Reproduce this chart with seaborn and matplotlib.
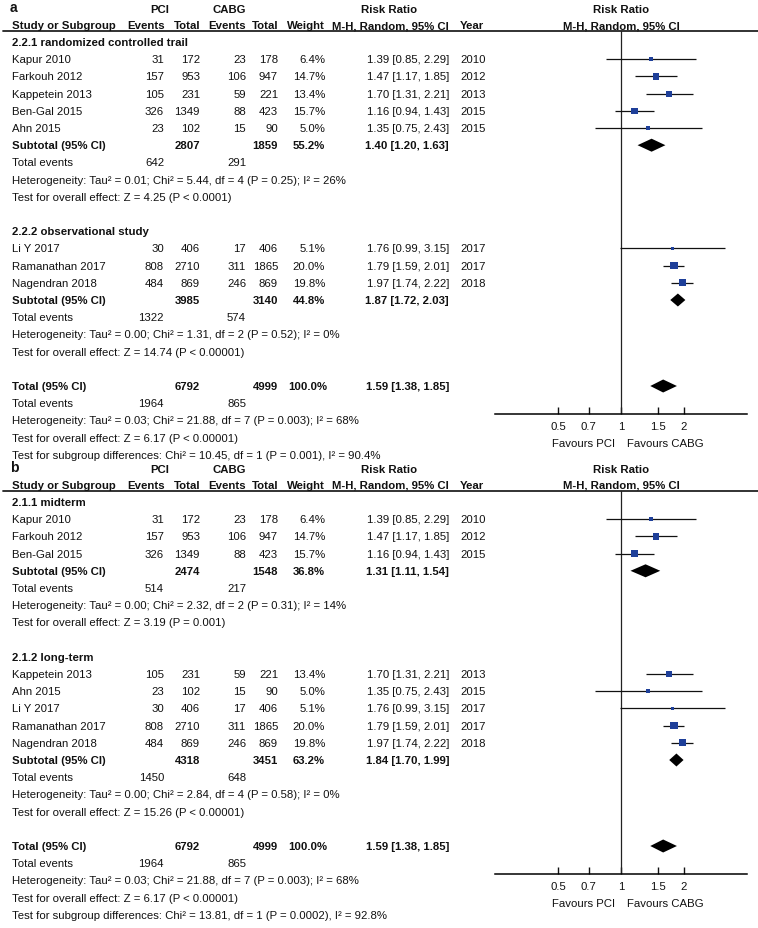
import matplotlib
matplotlib.use("Agg")
import matplotlib.pyplot as plt
import seaborn as sns
from matplotlib.patches import Polygon
from matplotlib.ticker import NullLocator

sns.set_theme(style="white")
plt.rcParams['font.family'] = ['Liberation Sans', 'DejaVu Sans']
plt.rcParams['axes.edgecolor'] = 'black'

# ── DATA ───────────────────────────────────────────────────
studies     = ["Kapur 2010", "Farkouh 2012", "Kappetein 2013", "Ben-Gal 2015",
               "Ahn 2015", "Li Y 2017", "Ramanathan 2017", "Nagendran 2018"]
pci_events  = [31, 157, 105, 326, 23, 30, 808, 484]
pci_total   = [172, 953, 231, 1349, 102, 406, 2710, 869]
cabg_events = [23, 106, 59, 88, 15, 17, 311, 246]
cabg_total  = [178, 947, 221, 423, 90, 406, 1865, 869]
weights     = [6.4, 14.7, 13.4, 15.7, 5.0, 5.1, 20.0, 19.8]
rr          = [1.39, 1.47, 1.70, 1.16, 1.35, 1.76, 1.79, 1.97]
rr_lo       = [0.85, 1.17, 1.31, 0.94, 0.75, 0.99, 1.59, 1.74]
rr_hi       = [2.29, 1.85, 2.21, 1.43, 2.43, 3.15, 2.01, 2.22]
years       = [2010, 2012, 2013, 2015, 2015, 2017, 2017, 2018]

# panel a: by study design
groups_a      = ["2.2.1 randomized controlled trail", "2.2.2 observational study"]
members_a     = [[0, 1, 2, 3, 4], [5, 6, 7]]
sub_pci_a     = [2807, 3985]
sub_cabg_a    = [1859, 3140]
sub_weight_a  = [55.2, 44.8]
sub_rr_a      = [1.40, 1.87]
sub_lo_a      = [1.20, 1.72]
sub_hi_a      = [1.63, 2.03]
sub_pci_ev_a  = [642, 1322]
sub_cabg_ev_a = [291, 574]
het_a = ["Tau² = 0.01; Chi² = 5.44, df = 4 (P = 0.25); I² = 26%",
         "Tau² = 0.00; Chi² = 1.31, df = 2 (P = 0.52); I² = 0%"]
z_a   = ["Z = 4.25 (P < 0.0001)", "Z = 14.74 (P < 0.00001)"]
subdiff_a = "Chi² = 10.45, df = 1 (P = 0.001), I² = 90.4%"

# panel b: by follow-up
groups_b      = ["2.1.1 midterm", "2.1.2 long-term"]
members_b     = [[0, 1, 3], [2, 4, 5, 6, 7]]
sub_pci_b     = [2474, 4318]
sub_cabg_b    = [1548, 3451]
sub_weight_b  = [36.8, 63.2]
sub_rr_b      = [1.31, 1.84]
sub_lo_b      = [1.11, 1.70]
sub_hi_b      = [1.54, 1.99]
sub_pci_ev_b  = [514, 1450]
sub_cabg_ev_b = [217, 648]
het_b = ["Tau² = 0.00; Chi² = 2.32, df = 2 (P = 0.31); I² = 14%",
         "Tau² = 0.00; Chi² = 2.84, df = 4 (P = 0.58); I² = 0%"]
z_b   = ["Z = 3.19 (P = 0.001)", "Z = 15.26 (P < 0.00001)"]
subdiff_b = "Chi² = 13.81, df = 1 (P = 0.0002), I² = 92.8%"

# overall
tot_pci, tot_cabg         = 6792, 4999
tot_rr, tot_lo, tot_hi    = 1.59, 1.38, 1.85
tot_pci_ev, tot_cabg_ev   = 1964, 865
tot_het = "Tau² = 0.03; Chi² = 21.88, df = 7 (P = 0.003); I² = 68%"
tot_z   = "Z = 6.17 (P < 0.00001)"

tick_vals   = [0.5, 0.7, 1, 1.5, 2]
tick_labels = ["0.5", "0.7", "1", "1.5", "2"]

# ── LAYOUT ─────────────────────────────────────────────────
W, H  = 758, 929
FS    = 8.2
STEP  = 17.2
NAVY  = "#1e3f99"
X_PE, X_PT, X_CE, X_CT, X_W, X_CI, X_YR = 164, 200, 246, 278, 325, 449, 460

fig = plt.figure(figsize=(W / 100, H / 100), dpi=100)
tx = fig.add_axes([0, 0, 1, 1])
tx.set_xlim(0, W); tx.set_ylim(H, 0); tx.axis('off')


def t(x, y, s, ha='left', bold=False, size=FS):
    tx.text(x, y, s, ha=ha, va='center', fontsize=size,
            fontweight='bold' if bold else 'normal', color='#111111')


def ci_str(m, lo, hi):
    return f"{m:.2f} [{lo:.2f}, {hi:.2f}]"


def diamond(ax, y, m, lo, hi, h=6.5):
    ax.add_patch(Polygon([(lo, y), (m, y - h), (hi, y), (m, y + h)],
                         closed=True, color='black', lw=0))


def draw_panel(letter, top, groups, members, sub_pci, sub_cabg, sub_w,
               sub_rr, sub_lo, sub_hi, sub_pe, sub_ce, het, zs, subdiff):
    row0    = top + 38
    line_y  = top + 27
    axis_y  = top + 410

    # headers
    t(10, top + 3, letter, bold=True, size=10)
    t(160, top + 5, "PCI", ha='center', bold=True)
    t(229, top + 5, "CABG", ha='center', bold=True)
    t(389, top + 5, "Risk Ratio", ha='center', bold=True)
    t(621, top + 5, "Risk Ratio", ha='center', bold=True)
    yh = top + 21
    t(12, yh, "Study or Subgroup", bold=True)
    t(X_PE + 1, yh, "Events", ha='right', bold=True)
    t(X_PT, yh, "Total", ha='right', bold=True)
    t(X_CE, yh, "Events", ha='right', bold=True)
    t(X_CT, yh, "Total", ha='right', bold=True)
    t(X_W, yh, "Weight", ha='right', bold=True)
    t(X_CI, yh, "M-H, Random, 95% CI", ha='right', bold=True)
    t(X_YR, yh, "Year", bold=True)
    t(621, yh, "M-H, Random, 95% CI", ha='center', bold=True)
    tx.plot([3, W], [line_y, line_y], color='#222222', lw=1.3)

    # forest axes in pixel-y units
    ax = fig.add_axes([495 / W, 1 - axis_y / H, 252 / W, (axis_y - line_y) / H])
    ax.set_xscale('log')
    ax.patch.set_alpha(0)

    k = 0
    ys, xs, ws, los, his = [], [], [], [], []
    for g, name in enumerate(groups):
        y = row0 + STEP * k
        t(12, y, name, bold=True)
        k += 1
        for i in members[g]:
            y = row0 + STEP * k
            t(12, y, studies[i])
            t(X_PE, y, str(pci_events[i]), ha='right')
            t(X_PT, y, str(pci_total[i]), ha='right')
            t(X_CE, y, str(cabg_events[i]), ha='right')
            t(X_CT, y, str(cabg_total[i]), ha='right')
            t(X_W, y, f"{weights[i]:.1f}%", ha='right')
            t(X_CI, y, ci_str(rr[i], rr_lo[i], rr_hi[i]), ha='right')
            t(X_YR, y, str(years[i]))
            ys.append(y); xs.append(rr[i]); ws.append(weights[i])
            los.append(rr_lo[i]); his.append(rr_hi[i])
            k += 1
        y = row0 + STEP * k
        t(12, y, "Subtotal (95% CI)", bold=True)
        t(X_PT, y, str(sub_pci[g]), ha='right', bold=True)
        t(X_CT, y, str(sub_cabg[g]), ha='right', bold=True)
        t(X_W, y, f"{sub_w[g]:.1f}%", ha='right', bold=True)
        t(X_CI, y, ci_str(sub_rr[g], sub_lo[g], sub_hi[g]), ha='right', bold=True)
        diamond(ax, y, sub_rr[g], sub_lo[g], sub_hi[g])
        k += 1
        y = row0 + STEP * k
        t(12, y, "Total events")
        t(X_PE, y, str(sub_pe[g]), ha='right')
        t(X_CE, y, str(sub_ce[g]), ha='right')
        k += 1
        t(12, row0 + STEP * k, "Heterogeneity: " + het[g]); k += 1
        t(12, row0 + STEP * k, "Test for overall effect: " + zs[g]); k += 1
        k += 1

    y = row0 + STEP * k
    t(12, y, "Total (95% CI)", bold=True)
    t(X_PT, y, str(tot_pci), ha='right', bold=True)
    t(X_CT, y, str(tot_cabg), ha='right', bold=True)
    t(X_W + 2, y, "100.0%", ha='right', bold=True)
    t(X_CI, y, ci_str(tot_rr, tot_lo, tot_hi), ha='right', bold=True)
    diamond(ax, y, tot_rr, tot_lo, tot_hi)
    k += 1
    y = row0 + STEP * k
    t(12, y, "Total events")
    t(X_PE, y, str(tot_pci_ev), ha='right')
    t(X_CE, y, str(tot_cabg_ev), ha='right')
    k += 1
    t(12, row0 + STEP * k, "Heterogeneity: " + tot_het); k += 1
    t(12, row0 + STEP * k, "Test for overall effect: " + tot_z); k += 1
    t(12, row0 + STEP * k, "Test for subgroup differences: " + subdiff)

    # study CIs and weighted squares
    ax.hlines(ys, los, his, color='#111111', lw=0.9, zorder=2)
    sns.scatterplot(x=xs, y=ys, size=ws, sizes=(1.4 * 5, 1.4 * 20),
                    size_norm=(5, 20), marker='s', color=NAVY, linewidth=0,
                    legend=False, ax=ax, zorder=3)
    ax.axvline(1, color='#222222', lw=0.9, zorder=1)

    ax.set_xlim(0.25, 4)
    ax.set_ylim(axis_y, line_y)
    for s in ['left', 'right', 'top']:
        ax.spines[s].set_visible(False)
    ax.spines['bottom'].set_linewidth(1.1)
    ax.set_xticks(tick_vals)
    ax.set_xticklabels(tick_labels)
    ax.xaxis.set_minor_locator(NullLocator())
    ax.set_yticks([])
    ax.tick_params(axis='x', direction='in', length=5, width=1, pad=5,
                   labelsize=FS, colors='#111111', bottom=True)
    ax.set_xlabel(''); ax.set_ylabel('')
    ax.grid(False)

    t(615, axis_y + 29, "Favours PCI", ha='right')
    t(627, axis_y + 29, "Favours CABG")


draw_panel("a", 5, groups_a, members_a, sub_pci_a, sub_cabg_a, sub_weight_a,
           sub_rr_a, sub_lo_a, sub_hi_a, sub_pci_ev_a, sub_cabg_ev_a,
           het_a, z_a, subdiff_a)
draw_panel("b", 465, groups_b, members_b, sub_pci_b, sub_cabg_b, sub_weight_b,
           sub_rr_b, sub_lo_b, sub_hi_b, sub_pci_ev_b, sub_cabg_ev_b,
           het_b, z_b, subdiff_b)

fig.savefig("out.png", dpi=100, facecolor='white')
